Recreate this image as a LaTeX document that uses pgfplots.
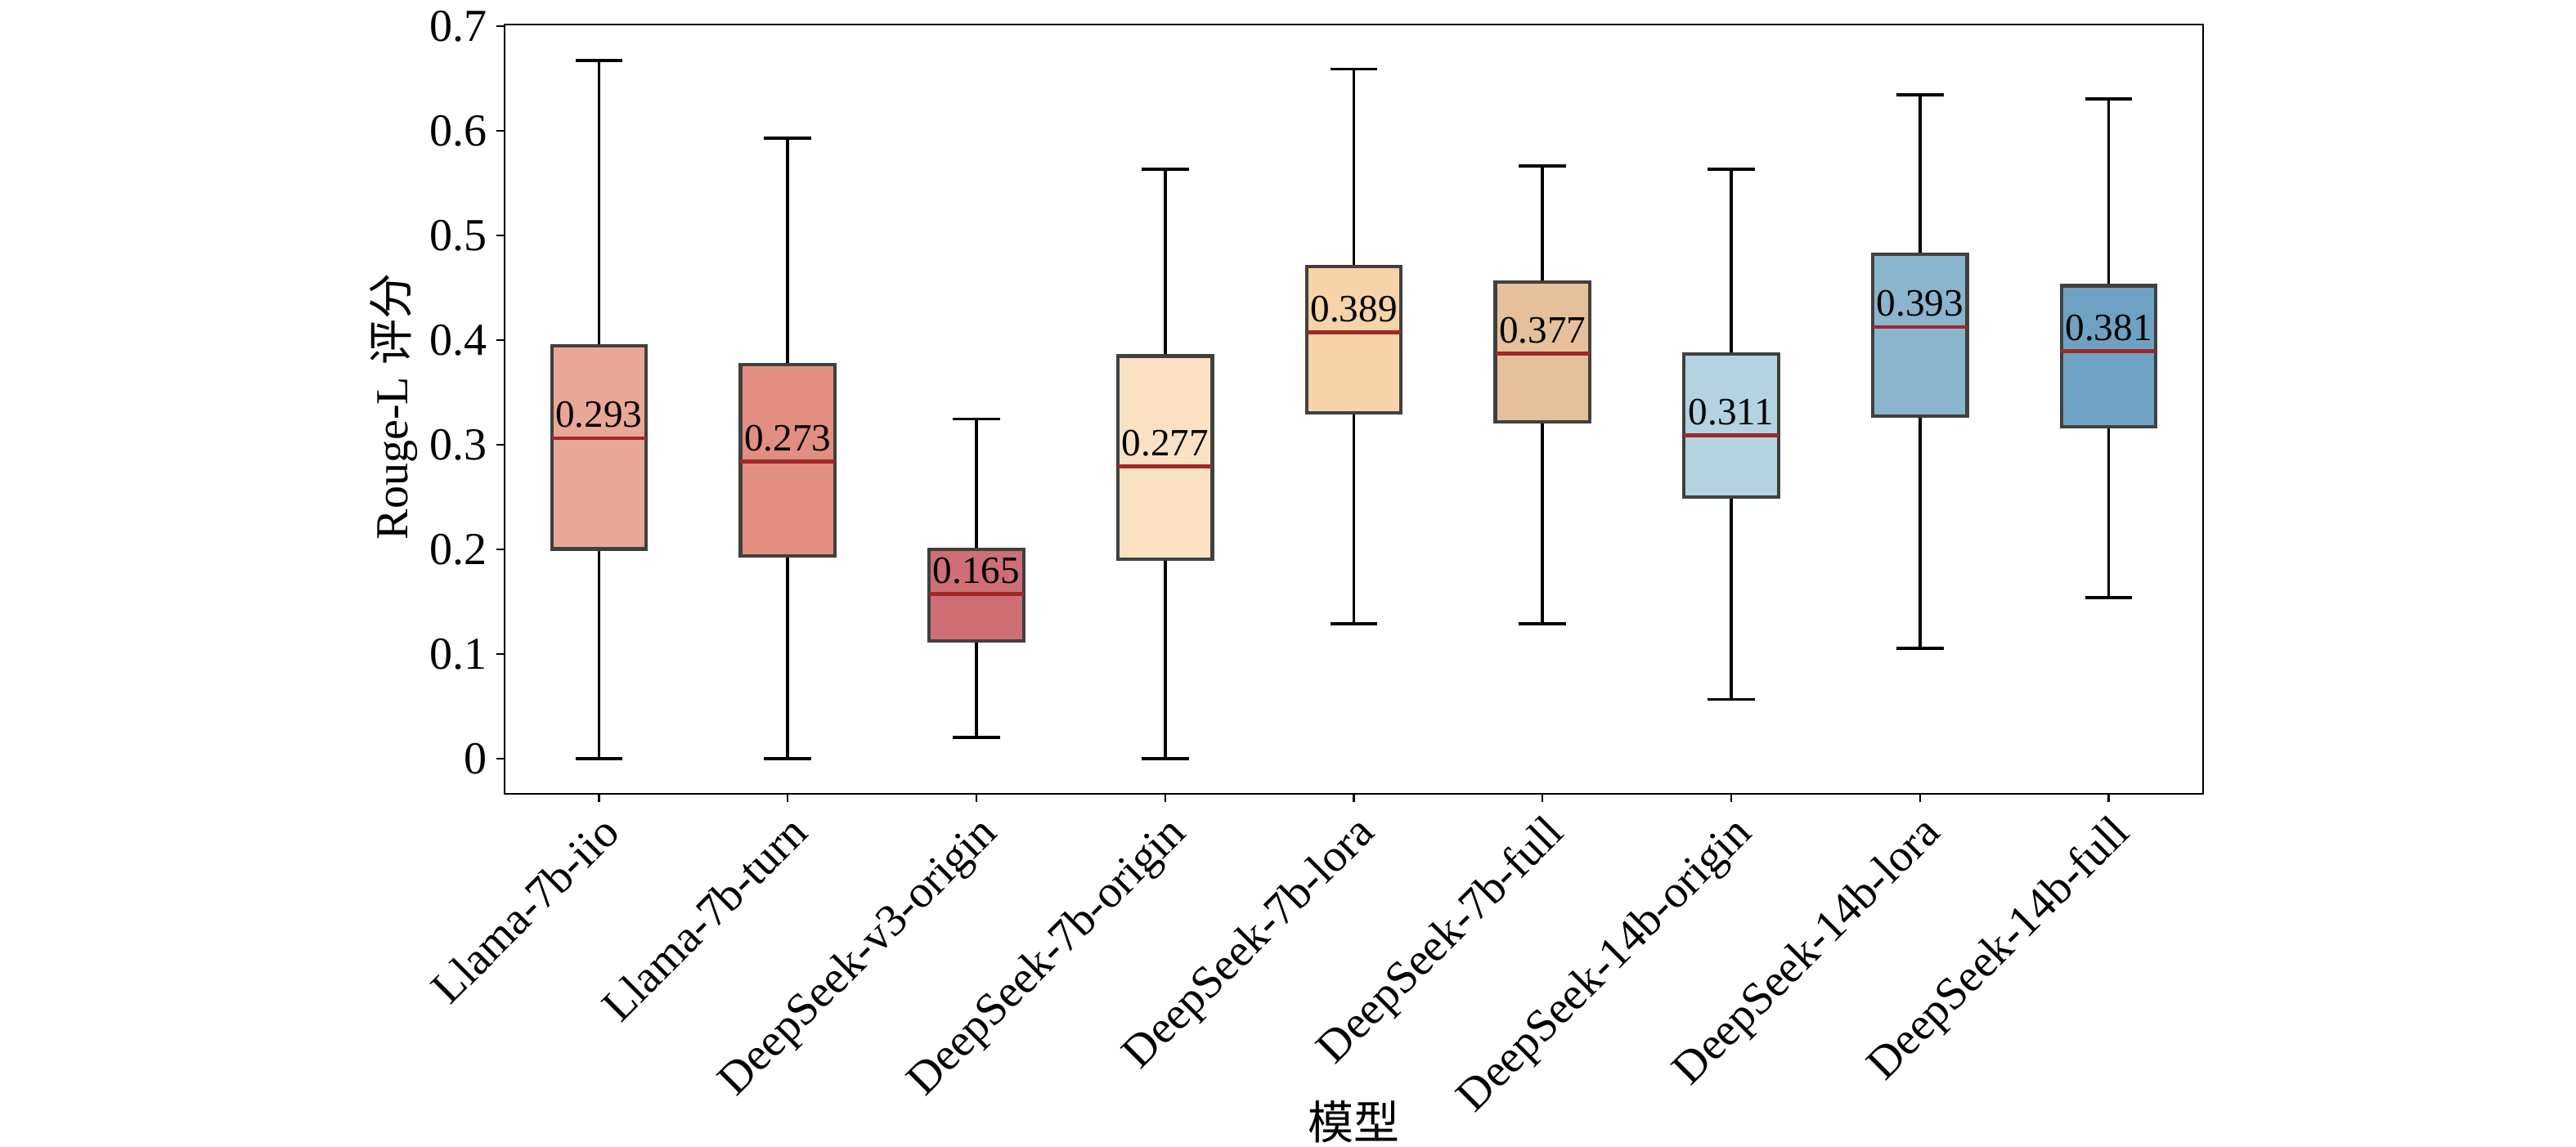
\documentclass[border=0pt]{standalone}
\usepackage{fontspec}
\setmainfont{Liberation Serif}
\newfontfamily\cjk{Noto Sans CJK SC}
\usepackage{pgfplots}
\pgfplotsset{compat=1.18}
\usepgfplotslibrary{statistics}
\usetikzlibrary{calc}
\definecolor{c1}{RGB}{233,167,151}
\definecolor{c2}{RGB}{226,142,128}
\definecolor{c3}{RGB}{205,111,116}
\definecolor{c4}{RGB}{250,225,196}
\definecolor{c5}{RGB}{246,211,168}
\definecolor{c6}{RGB}{229,192,155}
\definecolor{c7}{RGB}{178,211,223}
\definecolor{c8}{RGB}{138,181,204}
\definecolor{c9}{RGB}{111,162,194}
\definecolor{edgec}{RGB}{64,64,64}
\definecolor{medc}{RGB}{160,40,42}
\pgfplotsset{
  mybox/.style={fill=#1, draw=edgec, line width=1.05bp, mark=none, solid},
}
\begin{document}
\begin{tikzpicture}
\begin{axis}[
  scale only axis,
  width=519.25bp, height=235.25bp,
  xmin=0.5, xmax=9.5,
  ymin=-0.0334, ymax=0.7014,
  xtick={1,2,3,4,5,6,7,8,9},
  xticklabels={Llama-7b-iio,Llama-7b-turn,DeepSeek-v3-origin,DeepSeek-7b-origin,DeepSeek-7b-lora,DeepSeek-7b-full,DeepSeek-14b-origin,DeepSeek-14b-lora,DeepSeek-14b-full},
  ytick={0,0.1,0.2,0.3,0.4,0.5,0.6,0.7},
  yticklabels={0,0.1,0.2,0.3,0.4,0.5,0.6,0.7},
  xtick pos=bottom, ytick pos=left,
  tick align=outside,
  major tick length=2.6bp,
  tick style={black, line width=0.6bp},
  axis line style={black, line width=0.7bp},
  tick label style={font=\fontsize{14bp}{16bp}\selectfont},
  yticklabel style={inner sep=2.5bp},
  xticklabel style={rotate=45, anchor=north east, inner sep=2bp},
  boxplot/draw direction=y,
  boxplot/every whisker/.style={draw=black, line width=0.9bp},
  boxplot/every median/.style={draw=medc, line width=1.15bp},
  boxplot/box extend=0.5,
  boxplot/whisker extend=0.25,
  clip=false,
]
\addplot+[mybox=c1, boxplot prepared={draw position=1, lower whisker=0.000, lower quartile=0.2004, median=0.3063, upper quartile=0.3948, upper whisker=0.667}] coordinates {};
\addplot+[mybox=c2, boxplot prepared={draw position=2, lower whisker=0.000, lower quartile=0.1939, median=0.2839, upper quartile=0.3768, upper whisker=0.593}] coordinates {};
\addplot+[mybox=c3, boxplot prepared={draw position=3, lower whisker=0.0204, lower quartile=0.1129, median=0.1576, upper quartile=0.1999, upper whisker=0.3246}] coordinates {};
\addplot+[mybox=c4, boxplot prepared={draw position=4, lower whisker=0.000, lower quartile=0.1909, median=0.2794, upper quartile=0.3848, upper whisker=0.5633}] coordinates {};
\addplot+[mybox=c5, boxplot prepared={draw position=5, lower whisker=0.1288, lower quartile=0.3306, median=0.4072, upper quartile=0.4703, upper whisker=0.6588}] coordinates {};
\addplot+[mybox=c6, boxplot prepared={draw position=6, lower whisker=0.1288, lower quartile=0.3217, median=0.3873, upper quartile=0.4554, upper whisker=0.5663}] coordinates {};
\addplot+[mybox=c7, boxplot prepared={draw position=7, lower whisker=0.0567, lower quartile=0.2501, median=0.3092, upper quartile=0.3868, upper whisker=0.5633}] coordinates {};
\addplot+[mybox=c8, boxplot prepared={draw position=8, lower whisker=0.1054, lower quartile=0.3271, median=0.4126, upper quartile=0.4818, upper whisker=0.6344}] coordinates {};
\addplot+[mybox=c9, boxplot prepared={draw position=9, lower whisker=0.1541, lower quartile=0.3172, median=0.3893, upper quartile=0.4519, upper whisker=0.6304}] coordinates {};
\foreach \xx/\yy/\tt in {1/0.3063/0.293, 2/0.2839/0.273, 3/0.1576/0.165, 4/0.2794/0.277, 5/0.4072/0.389, 6/0.3873/0.377, 7/0.3092/0.311, 8/0.4126/0.393, 9/0.3893/0.381}{
  \edef\tmp{\noexpand\node[anchor=base, yshift=3.3bp, inner sep=0pt, font=\noexpand\fontsize{11.8bp}{14bp}\noexpand\selectfont] at (axis cs:\xx,\yy) {\tt};}
  \tmp
}
\end{axis}
\node[rotate=90, font=\fontsize{14bp}{16bp}\selectfont] at ($(current axis.west)+(-33.75bp,0.75bp)$) {Rouge-L {\cjk 评分}};
\node[font=\fontsize{14bp}{16bp}\selectfont] at ($(current axis.south)+(0,-100.25bp)$) {\cjk 模型};
\pgfresetboundingbox
\path[use as bounding box] ($(current axis.south west)+(-154.25bp,-108bp)$) rectangle ($(current axis.south west)+(633.25bp,242.75bp)$);
\end{tikzpicture}
\end{document}
